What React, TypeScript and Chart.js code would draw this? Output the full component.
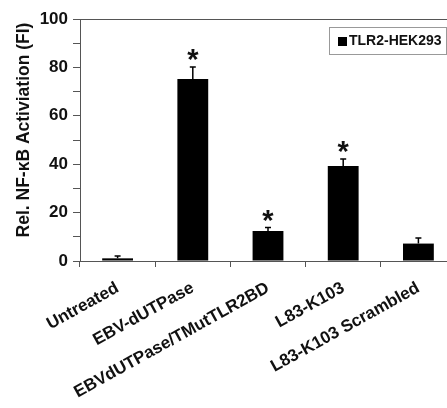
import { useEffect, useRef } from 'react';
import { Chart, registerables } from 'chart.js';
Chart.register(...registerables);

const categories = ['Untreated', 'EBV-dUTPase', 'EBVdUTPase/TMutTLR2BD', 'L83-K103', 'L83-K103 Scrambled'];
const values = [1.1, 75.2, 12.4, 39.3, 7.2];
const errors = [1.0, 5.0, 1.4, 2.9, 2.3];
const significant = [false, true, true, true, false];
const seriesLabel = 'TLR2-HEK293';
const yTickLabels = [0, 20, 40, 60, 80, 100];
const yTitle = 'Rel. NF-\u03baB Activiation (FI)';

const FONT = '"Liberation Sans", Arial, sans-serif';
const AXIS = '#555';
const INK = '#111';

export default function App() {
  const ref = useRef<HTMLCanvasElement>(null);
  useEffect(() => {
    document.body.style.margin = '0';
    document.body.style.overflow = 'hidden';
    const overlay = {
      id: 'overlay',
      afterDatasetsDraw(chart: any) {
        const ctx = chart.ctx;
        const area = chart.chartArea;
        const ys = chart.scales.y;
        const meta = chart.getDatasetMeta(0);
        ctx.save();
        ctx.strokeStyle = AXIS;
        ctx.lineWidth = 1;
        ctx.beginPath();
        ctx.moveTo(area.left, Math.round(area.top) + 0.5);
        ctx.lineTo(area.right, Math.round(area.top) + 0.5);
        ctx.stroke();
        ctx.strokeStyle = '#000';
        ctx.lineWidth = 1.5;
        ctx.fillStyle = INK;
        ctx.font = `bold 29px ${FONT}`;
        const m = ctx.measureText('*');
        const half = (m.actualBoundingBoxAscent - m.actualBoundingBoxDescent) / 2;
        values.forEach((v, i) => {
          const el = meta.data[i];
          const x = el.x;
          const yb = ys.getPixelForValue(v);
          const yt = ys.getPixelForValue(v + errors[i]);
          ctx.beginPath();
          ctx.moveTo(x, yb);
          ctx.lineTo(x, yt);
          ctx.moveTo(x - 3, yt);
          ctx.lineTo(x + 3, yt);
          ctx.stroke();
          if (significant[i]) {
            ctx.textAlign = 'center';
            ctx.textBaseline = 'alphabetic';
            ctx.fillText('*', x, yt - 12 + half);
          }
        });
        ctx.restore();
      },
      afterDraw(chart: any) {
        const ctx = chart.ctx;
        ctx.save();
        // y-axis title
        ctx.translate(24, 130);
        ctx.rotate(-Math.PI / 2);
        ctx.fillStyle = INK;
        ctx.font = `bold 17.5px ${FONT}`;
        ctx.textAlign = 'center';
        ctx.textBaseline = 'middle';
        ctx.fillText(yTitle, 0, 0);
        ctx.restore();
        ctx.save();
        const bx = 329, by = 27, bw = 117, bh = 27;
        ctx.strokeStyle = '#999';
        ctx.lineWidth = 1;
        ctx.strokeRect(bx + 0.5, by + 0.5, bw, bh);
        ctx.fillStyle = '#000';
        ctx.fillRect(bx + 9, by + 10, 9, 9);
        ctx.fillStyle = INK;
        ctx.font = `bold 14px ${FONT}`;
        ctx.textAlign = 'left';
        ctx.textBaseline = 'middle';
        ctx.fillText(chart.data.datasets[0].label, bx + 20, by + bh / 2 + 1);
        ctx.restore();
      },
    };
    const chart = new Chart(ref.current!, {
      type: 'bar',
      data: {
        labels: categories,
        datasets: [
          {
            label: seriesLabel,
            data: values,
            backgroundColor: '#000',
            borderWidth: 0,
            categoryPercentage: 1,
            barPercentage: 0.41,
          },
        ],
      },
      options: {
        responsive: false,
        animation: false,
        layout: { padding: { top: 19, left: 0, right: 2, bottom: 0 } },
        plugins: { legend: { display: false }, tooltip: { enabled: false } },
        scales: {
          x: {
            afterFit: (s: any) => { s.height = 147; },
            border: { display: true, color: AXIS, width: 1 },
            grid: { display: true, offset: true, drawOnChartArea: false, drawTicks: true, tickLength: 6, color: AXIS },
            ticks: {
              color: INK,
              font: { family: FONT, size: 17, weight: 'bold' },
              minRotation: 29,
              maxRotation: 29,
              autoSkip: false,
              padding: 11,
            },
          },
          y: {
            min: 0,
            max: 100,
            afterFit: (s: any) => { s.width = 80; },
            border: { display: true, color: AXIS, width: 1 },
            grid: { display: true, drawOnChartArea: false, drawTicks: true, tickLength: 7, color: AXIS },
            ticks: {
              stepSize: 10,
              color: INK,
              font: { family: FONT, size: 17, weight: 'bold' },
              padding: 5,
              callback: (v: any) => (yTickLabels.includes(Number(v)) ? String(v) : ''),
            },
          },
        },
      },
      plugins: [overlay],
    });
    return () => chart.destroy();
  }, []);
  return (
    <div style={{ position: 'fixed', left: 0, top: 0, width: 447, height: 408, overflow: 'hidden', background: '#fff' }}>
      <canvas ref={ref} width={458} height={408} style={{ display: 'block' }} />
    </div>
  );
}
